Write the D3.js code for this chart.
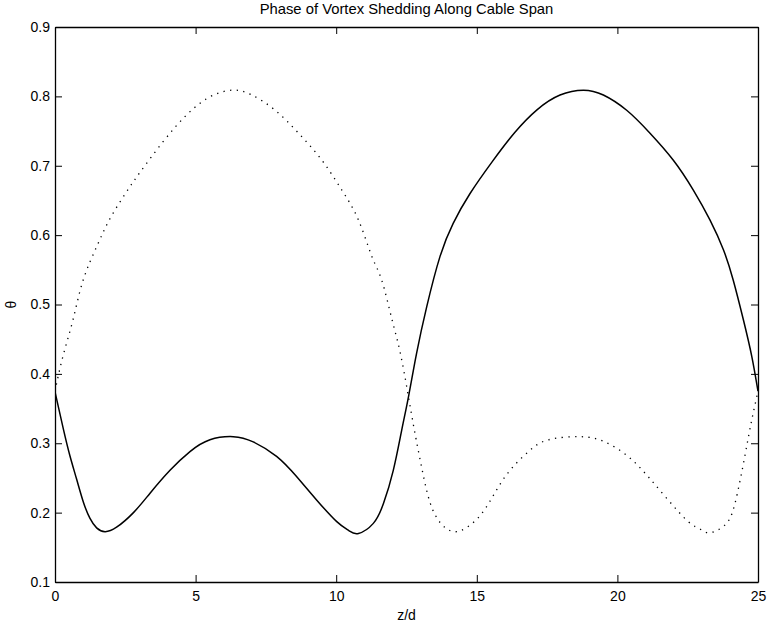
<!DOCTYPE html>
<html>
<head>
<meta charset="utf-8">
<script src="https://cdn.jsdelivr.net/npm/d3@7"></script>
<style>
  body { margin: 0; background: #fff; }
  text { font-family: "Liberation Sans", Arial, sans-serif; fill: #000; }
</style>
</head>
<body>
<script>
// z/d positions and theta values
const zSolid = [0, 0.30, 0.53, 0.77, 1.01, 1.24, 1.48, 1.78, 2.19, 2.79, 3.38, 4.09, 4.80, 5.51, 6.34,
  7.05, 7.88, 8.59, 9.31, 10.02, 10.45, 10.79, 11.32, 11.68, 12.03, 12.33, 12.57, 12.86, 13.22, 13.69, 14.16,
  14.76, 15.55, 16.35, 17.15, 17.96, 18.79, 19.50, 20.33, 21.16, 21.99, 22.70, 23.29, 23.77, 24.12, 24.48, 24.78, 25];
const thetaSolid = [0.374, 0.320, 0.282, 0.248, 0.215, 0.192, 0.178, 0.1725, 0.179, 0.200, 0.228, 0.261, 0.288, 0.305, 0.3095,
  0.302, 0.281, 0.252, 0.218, 0.187, 0.174, 0.170, 0.1845, 0.213, 0.261, 0.319, 0.367, 0.430, 0.497, 0.569, 0.617,
  0.660, 0.706, 0.748, 0.781, 0.802, 0.809, 0.802, 0.780, 0.747, 0.708, 0.665, 0.622, 0.579, 0.535, 0.478, 0.425, 0.375];

const zDotted = [0, 0.28, 0.64, 1.00, 1.50, 2.00, 2.62, 3.05, 3.85, 4.65, 5.45, 6.29, 7.00, 7.83, 8.66, 9.49,
  10.20, 10.79, 11.27, 11.62, 11.98, 12.28, 12.57, 12.78, 13.06, 13.35, 13.72, 14.19, 14.69, 15.29, 16.01, 16.84,
  17.55, 18.67, 19.55, 20.38, 21.09, 21.81, 22.52, 22.95, 23.29, 23.82, 24.18, 24.53, 24.76, 25];
const thetaDotted = [0.375, 0.425, 0.478, 0.535, 0.585, 0.627, 0.667, 0.692, 0.735, 0.772, 0.798, 0.809, 0.802, 0.780, 0.747, 0.708,
  0.665, 0.622, 0.569, 0.535, 0.479, 0.430, 0.367, 0.319, 0.261, 0.213, 0.1845, 0.1725, 0.180, 0.205, 0.252, 0.288,
  0.305, 0.3095, 0.302, 0.281, 0.252, 0.218, 0.187, 0.176, 0.171, 0.182, 0.213, 0.281, 0.330, 0.375];

const xTicks = [0, 5, 10, 15, 20, 25];
const yTicks = [0.1, 0.2, 0.3, 0.4, 0.5, 0.6, 0.7, 0.8, 0.9];

const width = 769;
const height = 627;
const margin = { left: 55, right: 11, top: 27, bottom: 45 };
const w = width - margin.left - margin.right;
const h = height - margin.top - margin.bottom;

const xScale = d3.scaleLinear().domain([0, 25]).range([0, w]);
const yScale = d3.scaleLinear().domain([0.1, 0.9]).range([h, 0]);

const svg = d3.select("body").append("svg")
  .attr("width", width)
  .attr("height", height);

const chartGroup = svg.append("g")
  .attr("transform", "translate(" + margin.left + "," + margin.top + ")");

// axes, ticks pointing inward (matlab style)
const xAxis = d3.axisBottom(xScale).tickValues(xTicks).tickSizeInner(-7).tickSizeOuter(0).tickPadding(9).tickFormat(d3.format("d"));
const yAxis = d3.axisLeft(yScale).tickValues(yTicks).tickSizeInner(-7).tickSizeOuter(0).tickPadding(5).tickFormat(d3.format(".1f"));
const xTop = d3.axisTop(xScale).tickValues(xTicks).tickSizeInner(-7).tickSizeOuter(0).tickFormat("");
const yRight = d3.axisRight(yScale).tickValues(yTicks).tickSizeInner(-7).tickSizeOuter(0).tickFormat("");

chartGroup.append("g").attr("class", "x axis")
  .attr("transform", "translate(0," + h + ")")
  .call(xAxis);
chartGroup.append("g").attr("class", "y axis").call(yAxis);
chartGroup.append("g").call(xTop);
chartGroup.append("g").attr("transform", "translate(" + w + ",0)").call(yRight);

chartGroup.selectAll(".domain").attr("stroke", "#000").attr("stroke-width", 1.3);
chartGroup.selectAll(".tick line").attr("stroke", "#000");
chartGroup.selectAll(".tick text").attr("font-size", 14).attr("font-family", "Liberation Sans, Arial, sans-serif");

const lineGen = d3.line()
  .x((d) => xScale(d[0]))
  .y((d) => yScale(d[1]))
  .curve(d3.curveNatural);

chartGroup.append("clipPath").attr("id", "clip")
  .append("rect").attr("width", w).attr("height", h);

chartGroup.append("path")
  .attr("clip-path", "url(#clip)")
  .attr("d", lineGen(d3.zip(zDotted, thetaDotted)))
  .attr("fill", "none")
  .attr("stroke", "#000")
  .attr("stroke-width", 1.3)
  .attr("stroke-dasharray", "1.3,5.4");

chartGroup.append("path")
  .attr("clip-path", "url(#clip)")
  .attr("d", lineGen(d3.zip(zSolid, thetaSolid)))
  .attr("fill", "none")
  .attr("stroke", "#000")
  .attr("stroke-width", 1.5);

// labels
svg.append("text")
  .attr("x", margin.left + w / 2)
  .attr("y", 14)
  .attr("text-anchor", "middle")
  .attr("font-size", 14.8)
  .text("Phase of Vortex Shedding Along Cable Span");

svg.append("text")
  .attr("x", margin.left + w / 2)
  .attr("y", 620)
  .attr("text-anchor", "middle")
  .attr("font-size", 14)
  .text("z/d");

svg.append("text")
  .attr("transform", "translate(16," + (margin.top + h / 2) + ") rotate(-90)")
  .attr("text-anchor", "middle")
  .attr("font-size", 14)
  .text("θ");
</script>
</body>
</html>
